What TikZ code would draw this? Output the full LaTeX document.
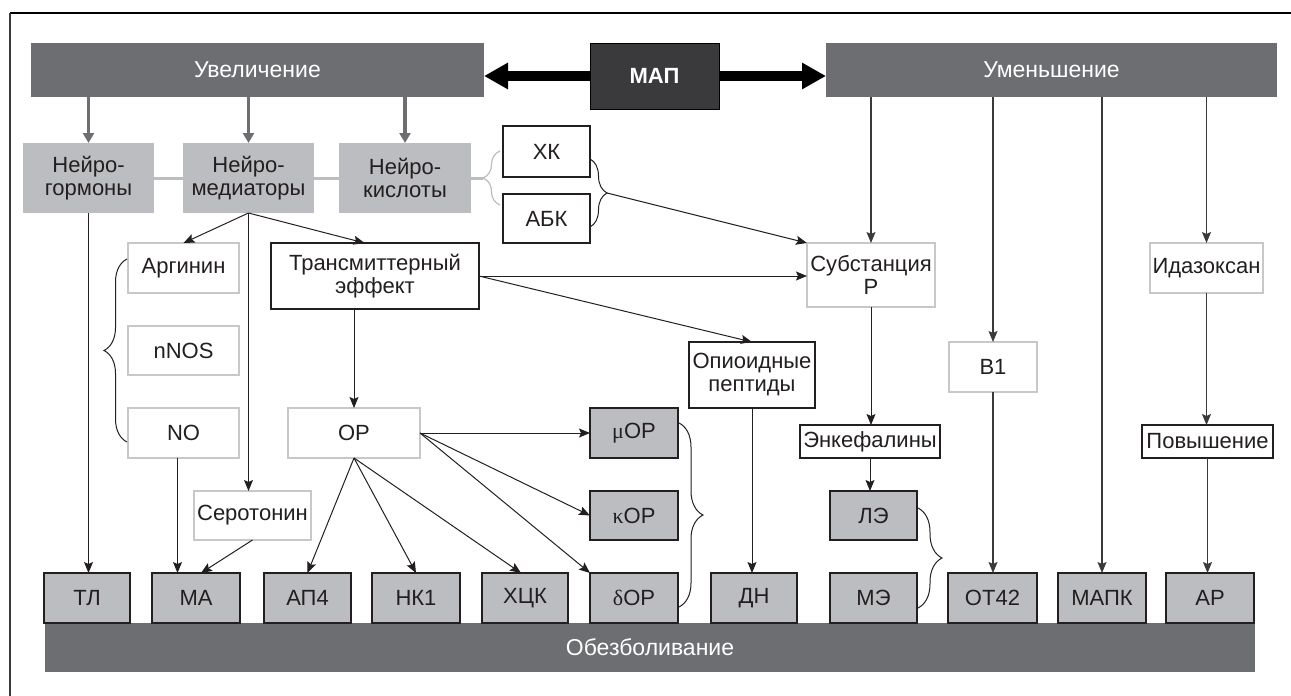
\documentclass[tikz,border=0pt]{standalone}
\usepackage{fontspec}
\setmainfont{Liberation Sans}
\newfontfamily\grk{Liberation Serif}
\usetikzlibrary{arrows.meta,decorations.pathreplacing,calc}
\definecolor{darkbar}{HTML}{6D6E72}
\definecolor{mapc}{HTML}{3A3A3C}
\definecolor{lightg}{HTML}{BCBDC0}
\definecolor{thinb}{HTML}{C8C8C8}
\definecolor{ink}{HTML}{231F20}
\definecolor{midg}{HTML}{3A3A3C}
\newcommand\mybox[7]{\node[#1, minimum width={(#5-#3)*0.5pt}, minimum height={(#6-#4)*0.5pt}] (#2) at ({(#3+#5)/2},{(#4+#6)/2}) {#7};}
\tikzset{
  base/.style={inner sep=0pt, outer sep=0pt, align=center, font=\fontsize{11}{11.5}\selectfont, text=ink},
  bar/.style={base, fill=darkbar, text=white, font=\fontsize{11.5}{13}\selectfont},
  mapbox/.style={base, fill=mapc, draw=black, line width=0.5pt, text=white, font=\fontsize{11}{13}\selectfont\bfseries},
  neuro/.style={base, fill=lightg},
  blk/.style={base, fill=white, draw=ink, line width=0.6pt},
  boldbox/.style={base, fill=white, draw=ink, line width=1.4pt},
  pale/.style={base, fill=white, draw=thinb, line width=0.7pt},
  rec/.style={base, fill=lightg, draw=ink, line width=0.6pt},
  arr/.style={draw=ink, line width=0.5pt, -{Stealth[length=5.5pt,width=4.5pt,inset=1pt]}},
  darr/.style={draw=midg, line width=0.6pt, -{Stealth[length=5.5pt,width=4.5pt,inset=1pt]}},
  garr/.style={draw=darkbar, line width=1.6pt, -{Triangle[length=5pt,width=5.5pt]}},
  glink/.style={draw=lightg, line width=1.5pt},
  bigarr/.style={draw=black, line width=5pt, -{Triangle[length=12pt,width=12.5pt]}},
  brc/.style={draw=ink, line width=0.5pt, decorate},
  gbrc/.style={draw=lightg, line width=0.6pt, decorate},
}
\begin{document}
\begin{tikzpicture}[x=0.5pt,y=-0.5pt]
\useasboundingbox (0,0) rectangle (1291,696);
% frame
\draw[black, line width=1pt] (10,13) -- (1291,13);
\draw[midg, line width=0.6pt] (10,13) -- (10,696);
% top bars
\mybox{bar}{inc}{31}{43}{484}{97}{Увеличение}
\mybox{bar}{dec}{826}{43}{1277}{97}{Уменьшение}
\mybox{mapbox}{map}{590}{43}{719}{109}{МАП}
\mybox{bar}{anal}{45}{623}{1255}{672}{Обезболивание}
% neuro boxes
\mybox{neuro}{nh}{23}{143}{154}{213}{Нейро-\\гормоны}
\mybox{neuro}{nm}{183}{143}{314}{213}{Нейро-\\медиаторы}
\mybox{neuro}{nk}{339}{143}{471}{213}{Нейро-\\кислоты}
% black bordered
\mybox{blk}{xk}{503}{126}{590}{177}{ХК}
\mybox{blk}{abk}{503}{194}{590}{243}{АБК}
\mybox{blk}{opp}{689}{342}{815}{408}{Опиоидные\\пептиды}
\mybox{blk}{enk}{800}{425}{940}{458}{Энкефалины}
\mybox{blk}{pov}{1142}{425}{1273}{458}{Повышение}
\mybox{boldbox}{tr}{271}{243}{479}{309}{Трансмиттерный\\эффект}
% pale boxes
\mybox{pale}{arg}{128}{243}{239}{293}{Аргинин}
\mybox{pale}{nnos}{128}{326}{239}{375}{nNOS}
\mybox{pale}{no}{128}{408}{239}{458}{NO}
\mybox{pale}{op}{288}{408}{420}{458}{ОР}
\mybox{pale}{ser}{194}{491}{311}{540}{Серотонин}
\mybox{pale}{subp}{807}{243}{935}{307}{Субстанция\\Р}
\mybox{pale}{b1}{949}{342}{1037}{392}{B1}
\mybox{pale}{ida}{1150}{243}{1263}{293}{Идазоксан}
% receptor boxes
\mybox{rec}{mu}{590}{408}{678}{458}{{\grk μ}ОР}
\mybox{rec}{kap}{590}{491}{678}{540}{{\grk κ}ОР}
\mybox{rec}{le}{830}{491}{917}{540}{ЛЭ}
\mybox{rec}{tl}{44}{573}{130}{623}{ТЛ}
\mybox{rec}{ma}{152}{573}{240}{623}{МА}
\mybox{rec}{ap4}{264}{573}{351}{623}{АП4}
\mybox{rec}{nk1}{372}{573}{460}{623}{НК1}
\mybox{rec}{xck}{482}{573}{568}{623}{ХЦК}
\mybox{rec}{del}{590}{573}{678}{623}{{\grk δ}ОР}
\mybox{rec}{dn}{711}{573}{797}{623}{ДН}
\mybox{rec}{me}{830}{573}{917}{623}{МЭ}
\mybox{rec}{ot}{948}{573}{1037}{623}{ОТ42}
\mybox{rec}{mapk}{1058}{573}{1146}{623}{МАПК}
\mybox{rec}{ar}{1166}{573}{1254}{623}{АР}
% MAP arrows
\draw[bigarr] (map.west) -- (inc.east |- map.west);
\draw[bigarr] (map.east) -- (dec.west |- map.east);
% gray arrows from increase
\draw[garr] (nh.north |- inc.south) -- (nh.north);
\draw[garr] (nm.north |- inc.south) -- (nm.north);
\draw[garr] (nk.north |- inc.south) -- (nk.north);
% gray links
\draw[glink] (nh.east) -- (nm.west);
\draw[glink] (nm.east) -- (nk.west);
\coordinate (gb) at (483,178);
\draw[glink] (nk.east) -- (gb);
\draw[gbrc, decoration={brace, amplitude=8.5pt}] (500,205) -- (500,151);
% braces
\draw[brc, decoration={brace, amplitude=8.5pt}] (590,159) -- (590,227);
\coordinate (xkb) at (607,193);
\draw[brc, decoration={brace, amplitude=11.5pt}] (127,442) -- (127,259);
\draw[brc, decoration={brace, amplitude=12pt}] (679,423) -- (679,607);
\draw[brc, decoration={brace, amplitude=12pt}] (918,508) -- (918,608);
% arrows left part
\draw[arr] (nh.south) -- (nh.south |- tl.north);
\draw[arr] (nm.south) -- (arg.north);
\draw[arr] (nm.south) -- ($(tr.north west)!0.45!(tr.north east)$);
\draw[arr] (nm.south) -- (nm.south |- ser.north);
\coordinate (nob) at ($(no.south)+(-6,0)$);
\draw[arr] (nob) -- (nob |- ma.north);
\draw[arr] (ser.south) -- ($(ma.north)+(5,0)$);
\draw[arr] (op.north |- tr.south) -- (op.north);
\draw[arr] (tr.east) -- (tr.east -| subp.west);
\draw[arr] (tr.east) -- (opp.north);
\draw[arr] (xkb) -- (subp.north west);
\draw[arr] (op.east) -- (mu.west);
\draw[arr] (op.east) -- (kap.west);
\draw[arr] (op.east) -- (del.north west);
\draw[arr] (op.south) -- (ap4.north);
\draw[arr] (op.south) -- (nk1.north);
\draw[arr] (op.south) -- ($(xck.north)+(-4,0)$);
\draw[arr] (opp.south) -- (opp.south |- dn.north);
% right part
\draw[darr] (subp.north |- dec.south) -- (subp.north);
\draw[darr] (b1.north |- dec.south) -- (b1.north);
\draw[darr] (mapk.north |- dec.south) -- (mapk.north);
\draw[darr] (ida.north |- dec.south) -- (ida.north);
\draw[arr] (subp.south) -- (subp.south |- enk.north);
\draw[arr] (enk.south) -- (enk.south |- le.north);
\draw[darr] (b1.south) -- (b1.south |- ot.north);
\draw[darr] (ida.south) -- (ida.south |- pov.north);
\draw[darr] (pov.south) -- (pov.south |- ar.north);
\end{tikzpicture}
\end{document}
